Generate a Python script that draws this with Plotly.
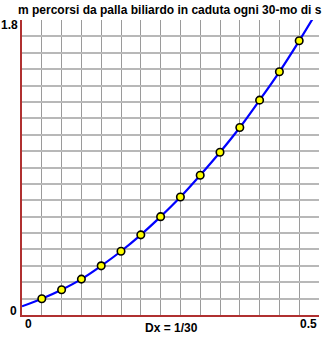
import plotly.graph_objects as go

# data
t_points = [1/30, 2/30, 3/30, 4/30, 5/30, 6/30, 7/30, 8/30, 9/30, 10/30, 11/30, 12/30, 13/30, 14/30]
s_points = [0.099, 0.154, 0.219, 0.300, 0.389, 0.489, 0.600, 0.720, 0.853, 0.993, 1.144, 1.311, 1.484, 1.673]
t_curve = [0.0] + t_points + [0.5]
s_curve = [0.053] + s_points + [1.872]

title_text = "m percorsi da palla biliardo in caduta ogni 30-mo di s"
x_label = "Dx = 1/30"
y_tick_labels = ["0", "1.8"]
x_tick_labels = ["0", "0.5"]

FONT = "Liberation Sans, Arial, sans-serif"
W, H = 324, 337
L, R, T, B = 22, 5, 20, 22
pw, ph = W - L - R, H - T - B

def px(xp):
    return (xp - L) / pw

def py(yp):
    return (H - B - yp) / ph

fig = go.Figure()
fig.add_trace(go.Scatter(x=t_curve, y=s_curve, mode="lines",
                         line=dict(color="#0000ff", width=2.2, shape="spline"),
                         hoverinfo="skip", cliponaxis=True))
fig.add_trace(go.Scatter(x=t_points, y=s_points, mode="markers",
                         marker=dict(color="#ffff00", size=7.5,
                                     line=dict(color="#000000", width=1.6))))

ann = []
def add(text, xp, yp, size=12):
    ann.append(dict(text=f"<b>{text}</b>", x=px(xp), y=py(yp), xref="paper", yref="paper",
                    xanchor="center", yanchor="middle", showarrow=False,
                    font=dict(family=FONT, size=size, color="#000000")))

add(y_tick_labels[1], 10, 25)
add(y_tick_labels[0], 13.5, 310.5)
add(x_tick_labels[0], 28, 324)
add(x_tick_labels[1], 308, 324)
add(x_label, 171, 328)
add(title_text, 169.5, 10, size=12)

fig.update_layout(
    width=W, height=H, margin=dict(l=L, r=R, t=T, b=B),
    paper_bgcolor="white", plot_bgcolor="white", showlegend=False,
    annotations=ann,
    xaxis=dict(range=[0, 0.5], dtick=1/30, tick0=0, showticklabels=False, ticks="",
               showgrid=True, gridcolor="#9a9a9a", gridwidth=1.3,
               zeroline=False, showline=True, linecolor="#b03030", linewidth=2,
               fixedrange=True),
    yaxis=dict(range=[0, 1.8], dtick=0.1, tick0=0, showticklabels=False, ticks="",
               showgrid=True, gridcolor="#b8b8b8", gridwidth=1.6,
               zeroline=False, showline=True, linecolor="#b03030", linewidth=2,
               fixedrange=True),
)

fig.write_html("out.html", config=dict(displayModeBar=False))
